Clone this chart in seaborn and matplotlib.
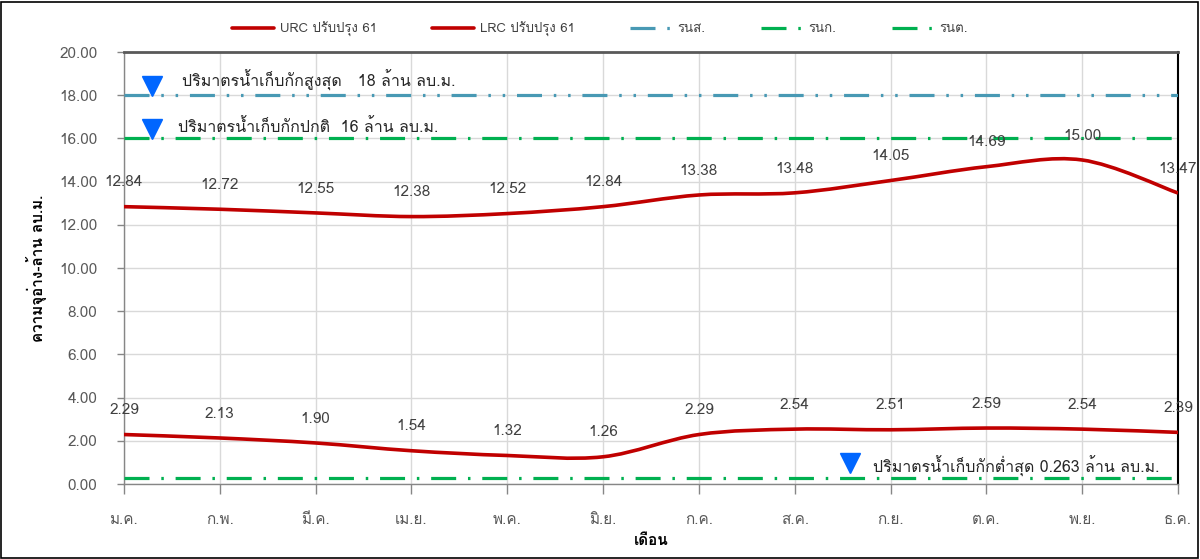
import numpy as np
import pandas as pd
import seaborn as sns
import matplotlib.pyplot as plt
import matplotlib.font_manager as fm
import matplotlib.transforms as mtransforms
from matplotlib.ft2font import FT2Font
from matplotlib.path import Path
from matplotlib.patches import PathPatch, Rectangle
from matplotlib.lines import Line2D

# ---------------- data ----------------
months = ["ม.ค.", "ก.พ.", "มี.ค.", "เม.ย.", "พ.ค.", "มิ.ย.",
          "ก.ค.", "ส.ค.", "ก.ย.", "ต.ค.", "พ.ย.", "ธ.ค."]
urc = [12.84, 12.72, 12.55, 12.38, 12.52, 12.84, 13.38, 13.48, 14.05, 14.69, 15.00, 13.47]
lrc = [2.29, 2.13, 1.90, 1.54, 1.32, 1.26, 2.29, 2.54, 2.51, 2.59, 2.54, 2.39]
level_max = 18.0      # รนส.
level_normal = 16.0   # รนก.
level_min = 0.263     # รนต.
series_names = ["URC ปรับปรุง 61", "LRC ปรับปรุง 61", "รนส.", "รนก.", "รนต."]
yticks = [0, 2, 4, 6, 8, 10, 12, 14, 16, 18, 20]
note_max = "ปริมาตรน้ำเก็บกักสูงสุด   18 ล้าน ลบ.ม."
note_normal = "ปริมาตรน้ำเก็บกักปกติ  16 ล้าน ลบ.ม."
note_min = "ปริมาตรน้ำเก็บกักต่ำสุด 0.263 ล้าน ลบ.ม."
xlabel = "เดือน"
ylabel = "ความจุอ่าง-ล้าน ลบ.ม."

# ---------------- style ----------------
sns.set_theme(style="white")


def find_thai_font():
    seen = set()
    for f in fm.fontManager.ttflist:
        if f.fname in seen:
            continue
        seen.add(f.fname)
        try:
            cmap = FT2Font(f.fname).get_charmap()
        except Exception:
            continue
        if 0x0E1B in cmap and 0x0E19 in cmap and 0x0E49 in cmap:
            return f.name
    return None


thai = find_thai_font()
families = ([thai] if thai else []) + ["DejaVu Sans"]
plt.rcParams["font.family"] = families
plt.rcParams["lines.scale_dashes"] = False

RED = "#C00000"
BLUE_LINE = "#4899B4"
GREEN = "#00B050"
TRI = "#0066FF"
TXT = "#404040"

fig = plt.figure(figsize=(12, 5.59), dpi=100)
ax = fig.add_axes([124 / 1200, 75 / 559, 1054 / 1200, 432 / 559])

x = np.arange(len(months))
df = pd.DataFrame({"m": x, "urc": urc, "lrc": lrc})

# reference levels (dash-dot patterns)
dash_dot_dot = (0, (18, 8.5, 1.8, 8.5, 1.8, 8.5))
dash_dot = (0, (18, 8.5, 1.8, 8.5))
sns.lineplot(x=x, y=np.full(len(x), level_max), ax=ax, color=BLUE_LINE, lw=2.3,
             linestyle=dash_dot_dot, legend=False, zorder=3)
sns.lineplot(x=x, y=np.full(len(x), level_normal), ax=ax, color=GREEN, lw=2.3,
             linestyle=dash_dot, legend=False, zorder=3)
sns.lineplot(x=x, y=np.full(len(x), level_min), ax=ax, color=GREEN, lw=2.3,
             linestyle=dash_dot, legend=False, zorder=3)


def smooth_path(xs, ys):
    P = np.column_stack([xs, ys]).astype(float)
    n = len(P)
    verts = [P[0]]
    codes = [Path.MOVETO]
    for i in range(n - 1):
        p0 = P[max(i - 1, 0)]
        p1 = P[i]
        p2 = P[i + 1]
        p3 = P[min(i + 2, n - 1)]
        c1 = p1 + (p2 - p0) / 6.0
        c2 = p2 - (p3 - p1) / 6.0
        verts += [c1, c2, p2]
        codes += [Path.CURVE4] * 3
    return Path(verts, codes)


for col in ["urc", "lrc"]:
    ax.add_patch(PathPatch(smooth_path(df["m"], df[col]), fill=False,
                           edgecolor=RED, lw=2.6, capstyle="butt", zorder=4))
    for xi, v in zip(df["m"], df[col]):
        ax.annotate(f"{v:.2f}", (xi, v), xytext=(0, 17.5), textcoords="offset points",
                    ha="center", va="center", fontsize=11, color=TXT,
                    annotation_clip=False, zorder=6)

# axes
ax.set_xlim(0, len(months) - 1)
ax.set_ylim(0, 20)
ax.set_xticks(x)
ax.set_xticklabels(months)
ax.set_yticks(yticks)
ax.set_yticklabels([f"{t:.2f}" for t in yticks])
ax.grid(True, color="#D9D9D9", lw=1)
ax.set_axisbelow(True)
ax.tick_params(axis="y", which="both", left=True, length=5, width=1, color="#868686",
               pad=14, labelsize=11, labelcolor="#595959")
ax.tick_params(axis="x", which="both", bottom=True, length=7, width=1, color="#868686",
               pad=14, labelsize=11, labelcolor="#595959")
for s in ["left", "bottom"]:
    ax.spines[s].set_color("#868686")
    ax.spines[s].set_linewidth(1)
ax.spines["top"].set_color("#595959")
ax.spines["top"].set_linewidth(2)
ax.spines["right"].set_color("#000000")
ax.spines["right"].set_linewidth(1.5)

ax.set_xlabel(xlabel, fontsize=11, fontweight="bold", color="#000000", va="center")
ax.xaxis.set_label_coords(0.5, -(541 - 484) / 432)
ax.set_ylabel(ylabel, fontsize=11, fontweight="bold", color="#000000", va="center")
ax.yaxis.set_label_coords(-(124 - 37) / 1054, 0.5)

# triangle markers and notes
up = mtransforms.ScaledTranslation(0, 6.5 / 72, fig.dpi_scale_trans)
for mx, lvl in [(0.29, level_max), (0.29, level_normal), (7.58, level_min + 0.3)]:
    ax.plot([mx], [lvl], marker="v", ms=14, color=TRI, mec=TRI, ls="none",
            transform=ax.transData + up, zorder=7, clip_on=False)
ax.text(0.605, level_max, note_max, fontsize=11.5, color="#262626", va="bottom",
        ha="left", zorder=7, transform=ax.transData + mtransforms.ScaledTranslation(0, 3 / 72, fig.dpi_scale_trans))
ax.text(0.565, level_normal, note_normal, fontsize=11.5, color="#262626", va="bottom",
        ha="left", zorder=7, transform=ax.transData + mtransforms.ScaledTranslation(0, 1.5 / 72, fig.dpi_scale_trans))
ax.text(7.82, level_min, note_min, fontsize=11.5, color="#262626", va="bottom",
        ha="left", zorder=7, transform=ax.transData + mtransforms.ScaledTranslation(0, 1 / 72, fig.dpi_scale_trans))

# legend
handles = [
    Line2D([], [], color=RED, lw=2.6),
    Line2D([], [], color=RED, lw=2.6),
    Line2D([], [], color=BLUE_LINE, lw=2.3, linestyle=dash_dot_dot),
    Line2D([], [], color=GREEN, lw=2.3, linestyle=dash_dot),
    Line2D([], [], color=GREEN, lw=2.3, linestyle=dash_dot),
]
fig.legend(handles, series_names, loc="center", bbox_to_anchor=(0.5, 1 - 29 / 559),
           ncol=5, frameon=False, fontsize=9.5, handlelength=3.2, handletextpad=0.4,
           columnspacing=4.2, labelcolor="#404040")

# outer chart border
fig.patches.append(Rectangle((1 / 1200, 1 / 559), 1197 / 1200, 556 / 559, transform=fig.transFigure,
                             fill=False, ec="#000000", lw=1.2, zorder=0))

fig.savefig("out.png", dpi=100, facecolor="white")
